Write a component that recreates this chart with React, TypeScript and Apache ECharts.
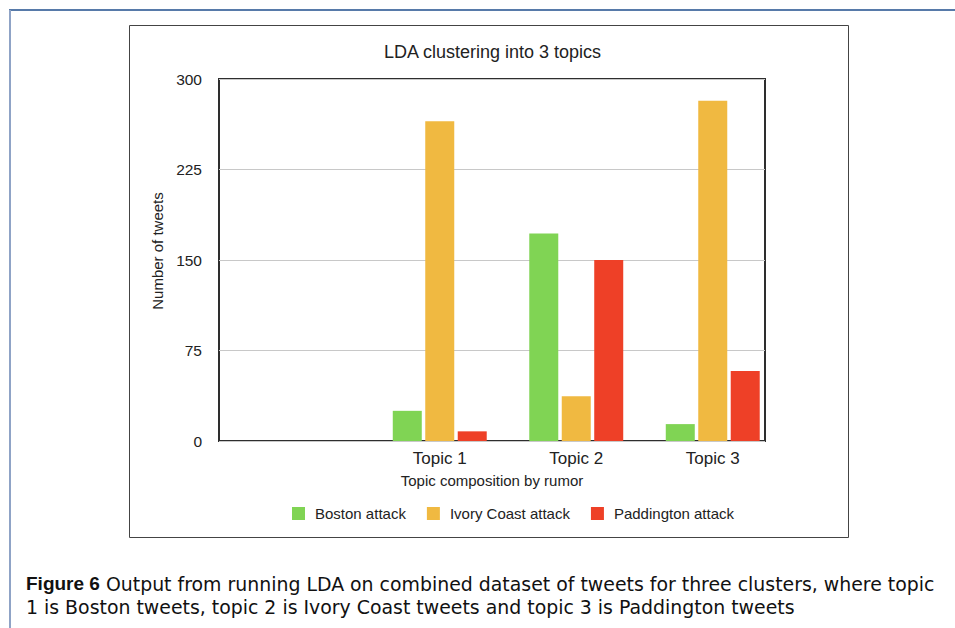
import React, { useEffect, useRef } from "react";
import * as echarts from "echarts";

const categories = ["", "Topic 1", "Topic 2", "Topic 3"];
const bostonAttack = [null, 25, 172, 14];
const ivoryCoastAttack = [null, 265, 37, 282];
const paddingtonAttack = [null, 8, 150, 58];
const seriesNames = ["Boston attack", "Ivory Coast attack", "Paddington attack"];
const seriesColors = ["#80d454", "#f0b941", "#ee4027"];
const yMin = 0;
const yMax = 300;
const yInterval = 75;

const chartTitle = "LDA clustering into 3 topics";
const xAxisTitle = "Topic composition by rumor";
const yAxisTitle = "Number of tweets";
const captionLine1 = "{b|Figure 6} Output from running LDA on combined dataset of tweets for three clusters, where topic";
const captionLine2 = "1 is Boston tweets, topic 2 is Ivory Coast tweets and topic 3 is Paddington tweets";

const FONT = "'Liberation Sans', Arial, Helvetica, sans-serif";
const CAPTION_FONT = "'DejaVu Sans', sans-serif";

export default function App() {
  const ref = useRef<HTMLDivElement>(null);
  useEffect(() => {
    if (!ref.current) return;
    const chart = echarts.init(ref.current, null, { renderer: "svg" });
    const values = [bostonAttack, ivoryCoastAttack, paddingtonAttack];
    chart.setOption({
      animation: false,
      backgroundColor: "#ffffff",
      textStyle: { fontFamily: FONT },
      title: {
        text: chartTitle,
        left: 379,
        top: 38,
        textStyle: { fontSize: 18, fontWeight: "normal", color: "#222", fontFamily: FONT },
      },
      legend: {
        left: 292,
        top: 506,
        padding: 0,
        itemWidth: 13,
        itemHeight: 13,
        itemGap: 21,
        icon: "rect",
        textStyle: { fontSize: 15, color: "#222", fontFamily: FONT, padding: [0, 0, 0, 5] },
        data: seriesNames,
      },
      grid: [
        {
          left: 219,
          top: 79,
          width: 546,
          height: 362,
          show: true,
          borderColor: "#2e2e2e",
          borderWidth: 2,
          backgroundColor: "transparent",
          containLabel: false,
        },
        {
          left: 235,
          top: 79,
          width: 546,
          height: 362,
          containLabel: false,
        },
      ],
      xAxis: [
        {
          type: "value",
          gridIndex: 0,
          min: 0,
          max: 1,
          axisLine: { show: false },
          axisTick: { show: false },
          axisLabel: { show: false },
          splitLine: { show: false },
          name: xAxisTitle,
          nameLocation: "middle",
          nameGap: 32,
          nameTextStyle: { fontSize: 15, color: "#222", fontFamily: FONT },
        },
        {
          type: "category",
          gridIndex: 1,
          data: categories,
          axisLine: { show: false },
          axisTick: { show: false },
          axisLabel: { fontSize: 17, color: "#222", margin: 9, fontFamily: FONT },
          splitLine: { show: false },
        },
      ],
      yAxis: [
        {
          type: "value",
          gridIndex: 0,
          min: yMin,
          max: yMax,
          interval: yInterval,
          axisLine: { show: false },
          axisTick: { show: false },
          axisLabel: { fontSize: 15.5, color: "#222", margin: 17, fontFamily: FONT },
          splitLine: { show: true, lineStyle: { color: "#c8c8c8", width: 1 } },
          name: yAxisTitle,
          nameLocation: "middle",
          nameGap: 53,
          nameTextStyle: { fontSize: 15, color: "#222", fontFamily: FONT, padding: [0, 0, 0, 18] },
        },
        {
          type: "value",
          gridIndex: 1,
          min: yMin,
          max: yMax,
          interval: yInterval,
          show: false,
        },
      ],
      series: seriesNames.map((name, i) => ({
        type: "bar",
        name,
        xAxisIndex: 1,
        yAxisIndex: 1,
        data: values[i],
        barWidth: 29,
        barGap: "12%",
        itemStyle: { color: seriesColors[i] },
      })),
      graphic: [
        {
          type: "line",
          shape: { x1: 9, y1: 10, x2: 955, y2: 10 },
          style: { stroke: "#1f4e8c", lineWidth: 1.5 },
        },
        {
          type: "line",
          shape: { x1: 10, y1: 10, x2: 10, y2: 628 },
          style: { stroke: "#8fa3c6", lineWidth: 2 },
        },
        {
          type: "rect",
          shape: { x: 129.5, y: 25.5, width: 719, height: 512 },
          style: { fill: "none", stroke: "#444", lineWidth: 1 },
        },
        {
          type: "text",
          x: 26,
          y: 574,
          style: {
            text: captionLine1,
            fontSize: 18.9,
            fontFamily: CAPTION_FONT,
            fill: "#111",
            rich: { b: { fontWeight: "bold", fontSize: 19, fontFamily: FONT, fill: "#111" } },
          },
        },
        {
          type: "text",
          x: 26,
          y: 597,
          style: {
            text: captionLine2,
            fontSize: 18.9,
            fontFamily: CAPTION_FONT,
            fill: "#111",
          },
        },
      ],
    });
    return () => chart.dispose();
  }, []);
  return (
    <div
      ref={ref}
      style={{ position: "absolute", left: 0, top: 0, width: 955, height: 628 }}
    />
  );
}
